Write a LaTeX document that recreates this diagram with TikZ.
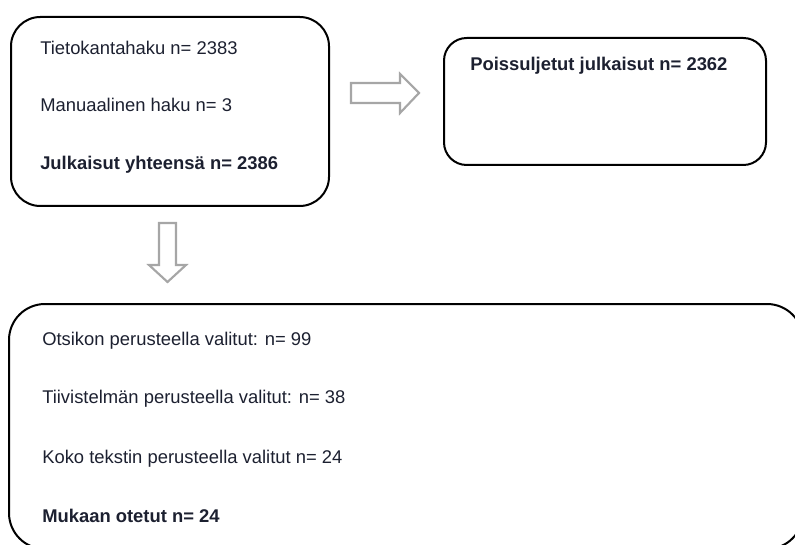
\documentclass[tikz,border=0pt]{standalone}
\usepackage{fontspec}
\setmainfont{Liberation Sans}
\definecolor{txt}{HTML}{1C2030}
\definecolor{arrowgray}{HTML}{A6A6A6}
\tikzset{
  boxshape/.style={draw=black, line width=1.5pt, inner sep=0pt, anchor=north west},
  label/.style={anchor=base west, inner sep=0pt, text=txt, font=\fontsize{13.8}{16}\selectfont},
  boldlabel/.style={label, font=\fontsize{13.8}{16}\selectfont\bfseries},
  blockarrow/.style={draw=arrowgray, line width=1.6pt, fill=white, line join=miter}
}
\begin{document}
\begin{tikzpicture}[x=0.75pt,y=-0.75pt]
\useasboundingbox (0,0) rectangle (795,545);
\clip (0,0) rectangle (795,545);
% boxes
\node[boxshape, rounded corners=22pt, minimum width=318*0.75pt, minimum height=189*0.75pt] (b1) at (10,16) {};
\node[boxshape, rounded corners=17pt, minimum width=322*0.75pt, minimum height=127*0.75pt] (b2) at (443,37) {};
\node[boxshape, rounded corners=27pt, minimum width=794*0.75pt, minimum height=245*0.75pt] (b3) at (8,303) {};
% texts box 1
\node[label] (t1) at (40,55) {Tietokantahaku n= 2383};
\node[label] (t2) at (40,112) {Manuaalinen haku n= 3};
\node[boldlabel] (t3) at (40,170) {Julkaisut yhteensä n= 2386};
% text box 2
\node[boldlabel] (t4) at (470,71) {Poissuljetut julkaisut n= 2362};
% texts box 3
\node[label] (t5) at (42,345) {Otsikon perusteella valitut: n= 99};
\node[label] (t6) at (42,403) {Tiivistelmän perusteella valitut: n= 38};
\node[label] (t7) at (42,463) {Koko tekstin perusteella valitut n= 24};
\node[boldlabel] (t8) at (42,522) {Mukaan otetut n= 24};
% block arrows
\coordinate (ra) at (351,93);
\draw[blockarrow] (ra) ++(0,-10) -- ++(49,0) -- ++(0,-9) -- ++(19,19) -- ++(-19,20) -- ++(0,-10) -- ++(-49,0) -- cycle;
\coordinate (da) at (167.5,223);
\draw[blockarrow] (da) ++(-8.5,0) -- ++(17,0) -- ++(0,42) -- ++(10,0) -- ++(-18.5,17) -- ++(-18.5,-17) -- ++(10,0) -- cycle;
\end{tikzpicture}
\end{document}
